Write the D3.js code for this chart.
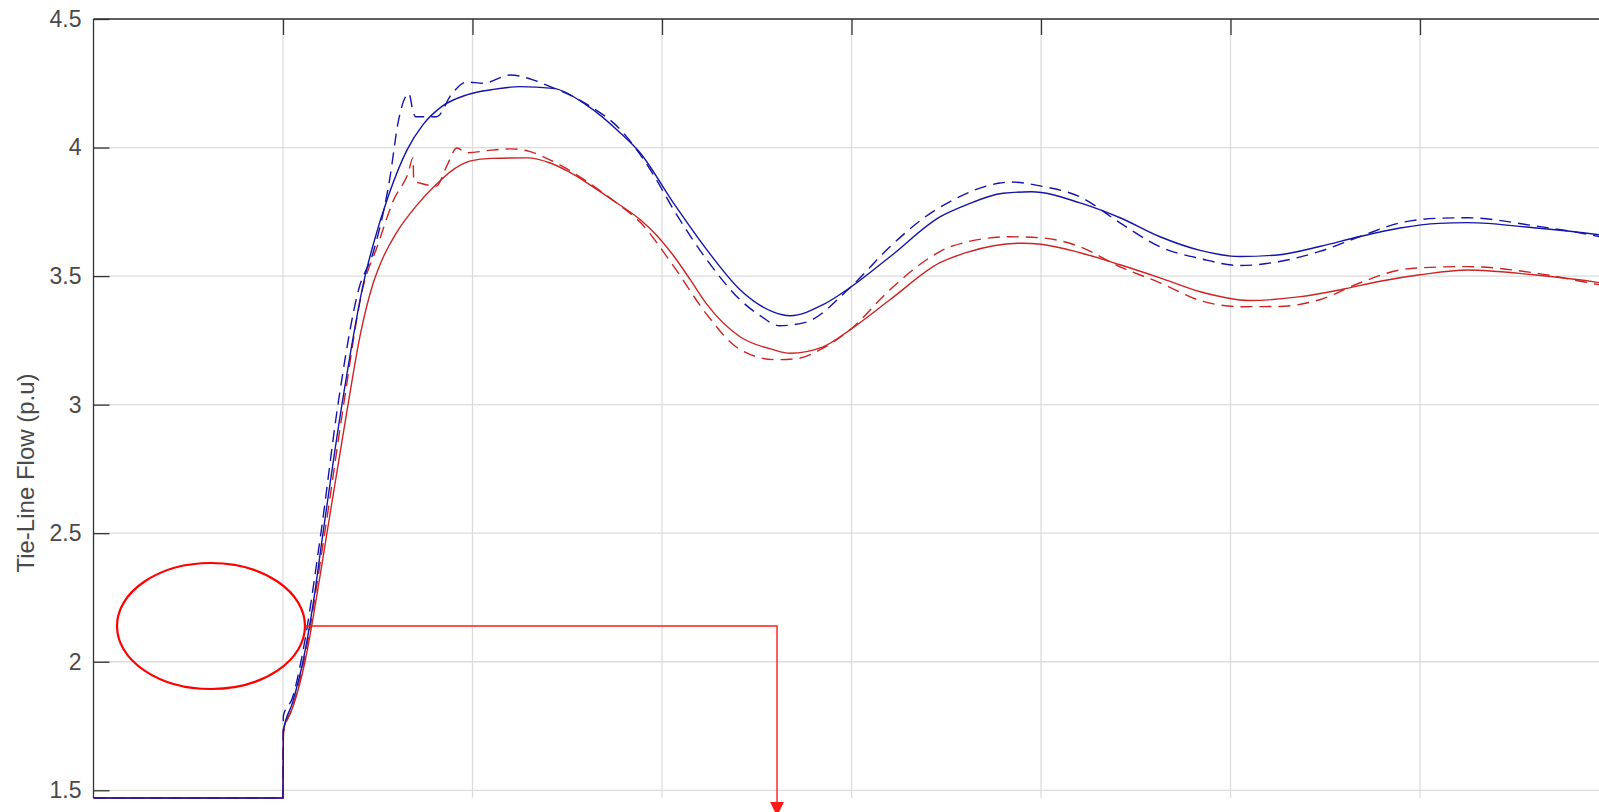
<!DOCTYPE html>
<html>
<head>
<meta charset="utf-8">
<script src="https://cdn.jsdelivr.net/npm/d3@7"></script>
<style>
  html, body { margin: 0; padding: 0; background: #fff; overflow: hidden; }
  svg { display: block; }
</style>
</head>
<body>
<div id="container"></div>
<script>
const WIDTH = 1599;
const HEIGHT = 812;
const LEFT = 93.5;
const TOP = 19;
const BOTTOM = 798;
const GRID_STEP = 189.5;

// data: [t, value]
var blueSolid = [[0,1.47],[1.0,1.47],[1.002,1.73],[1.05,1.84],[1.105,2.0],[1.16,2.23],[1.211,2.5],
  [1.311,3.0],[1.433,3.5],[1.475,3.62],[1.56,3.82],[1.654,3.99],[1.74,4.09],[1.839,4.16],[1.97,4.205],
  [2.1,4.225],[2.25,4.237],[2.425,4.23],[2.6,4.166],[2.78,4.057],[2.884,3.98],[3.06,3.785],
  [3.237,3.602],[3.412,3.447],[3.586,3.361],[3.676,3.346],[3.85,3.389],[3.992,3.455],[4.203,3.575],
  [4.467,3.73],[4.6,3.775],[4.8,3.822],[4.95,3.828],[5.206,3.785],[5.417,3.727],[5.628,3.653],
  [5.84,3.6],[6.05,3.576],[6.26,3.583],[6.47,3.615],[6.684,3.654],[6.895,3.687],[7.1,3.705],
  [7.25,3.708],[7.6,3.688],[7.95,3.66],[8.0,3.655]];

var blueDashed = [[0,1.47],[1.0,1.47],[1.002,1.79],[1.05,1.86],[1.1,2.02],[1.2,2.5],[1.29,3.0],
  [1.4,3.45],[1.475,3.59],[1.565,3.886],[1.607,4.096],[1.665,4.21],[1.686,4.14],[1.7,4.12],
  [1.81,4.12],[1.892,4.21],[1.97,4.255],[2.055,4.25],[2.2,4.282],[2.32,4.263],[2.4,4.24],
  [2.6,4.17],[2.78,4.07],[2.95,3.9],[3.06,3.76],[3.237,3.563],[3.412,3.408],[3.52,3.345],
  [3.62,3.307],[3.757,3.32],[3.992,3.455],[4.203,3.614],[4.37,3.72],[4.52,3.79],[4.784,3.862],
  [4.837,3.866],[5.0,3.85],[5.206,3.808],[5.417,3.707],[5.628,3.614],[5.84,3.568],[6.05,3.541],
  [6.26,3.557],[6.47,3.596],[6.684,3.654],[6.895,3.707],[7.1,3.725],[7.25,3.727],[7.6,3.696],
  [7.95,3.653],[8.0,3.645]];

var redSolid = [[0,1.47],[1.0,1.47],[1.002,1.735],[1.05,1.82],[1.116,2.0],[1.17,2.22],[1.232,2.5],
  [1.343,3.0],[1.41,3.28],[1.475,3.47],[1.53,3.575],[1.6,3.67],[1.7,3.77],[1.8,3.85],[1.9,3.915],
  [1.99,3.948],[2.1,3.958],[2.29,3.96],[2.41,3.94],[2.51,3.905],[2.62,3.855],[2.75,3.79],
  [2.884,3.72],[2.97,3.66],[3.06,3.58],[3.15,3.485],[3.237,3.39],[3.412,3.264],[3.586,3.214],
  [3.676,3.2],[3.85,3.225],[3.992,3.291],[4.203,3.408],[4.467,3.552],[4.6,3.59],[4.75,3.618],
  [4.9,3.628],[5.0,3.624],[5.206,3.591],[5.417,3.544],[5.628,3.493],[5.84,3.439],[6.1,3.405],
  [6.37,3.42],[6.58,3.447],[6.79,3.48],[7.0,3.505],[7.25,3.524],[7.6,3.505],[7.95,3.474],[8.0,3.468]];

var redDashed = [[0,1.47],[1.0,1.47],[1.002,1.72],[1.05,1.82],[1.11,2.0],[1.22,2.5],[1.32,3.0],
  [1.42,3.45],[1.5,3.62],[1.55,3.73],[1.58,3.79],[1.66,3.9],[1.686,3.96],[1.69,3.87],[1.73,3.86],
  [1.81,3.85],[1.865,3.93],[1.918,3.998],[1.97,3.98],[2.1,3.99],[2.2,3.995],[2.3,3.985],
  [2.4,3.955],[2.6,3.87],[2.75,3.79],[2.884,3.71],[3.06,3.54],[3.237,3.35],[3.412,3.214],
  [3.6,3.175],[3.72,3.18],[3.85,3.22],[3.992,3.291],[4.203,3.447],[4.42,3.575],[4.52,3.614],
  [4.837,3.653],[5.0,3.649],[5.206,3.614],[5.417,3.536],[5.628,3.474],[5.84,3.405],[6.05,3.381],
  [6.26,3.382],[6.47,3.408],[6.684,3.474],[6.895,3.524],[7.0,3.532],[7.25,3.537],[7.6,3.513],
  [7.95,3.466],[8.0,3.46]];

var yTicks = [1.5, 2, 2.5, 3, 3.5, 4, 4.5];
var xTicks = [1, 2, 3, 4, 5, 6, 7, 8];

// annotation (data units)
var ellipseMark = [0.62, 2.139, 0.496, 0.245];   // cx, cy, rx, ry
var arrowPath = [[1.116, 2.139], [3.607, 2.139], [3.607, 1.40]];

var translate = function (x, y) {
    return "translate(" + x + "," + y + ")";
};

var svg = d3.select("#container")
    .append("svg")
    .attr("width", WIDTH)
    .attr("height", HEIGHT);

var xScale = d3.scaleLinear().domain([0, 8]).range([LEFT, LEFT + 8 * GRID_STEP]);
var yScale = d3.scaleLinear().domain([1.47, 4.5]).range([BOTTOM, TOP]);

svg.append("defs").append("clipPath").attr("id", "plotClip")
    .append("rect")
    .attr("x", LEFT).attr("y", TOP - 2)
    .attr("width", WIDTH - LEFT).attr("height", BOTTOM - TOP + 4);

// grid
var grid = svg.append("g");
grid.selectAll(".hgrid").data(yTicks).enter().append("line")
    .attr("x1", LEFT).attr("x2", WIDTH)
    .attr("y1", function (d) { return yScale(d); })
    .attr("y2", function (d) { return yScale(d); })
    .attr("stroke", "#dcdcdc").attr("stroke-width", 1.3);
grid.selectAll(".vgrid").data(xTicks).enter().append("line")
    .attr("x1", function (d) { return xScale(d); })
    .attr("x2", function (d) { return xScale(d); })
    .attr("y1", TOP).attr("y2", BOTTOM)
    .attr("stroke", "#dcdcdc").attr("stroke-width", 1.3);

// axes: left with inward ticks, top with inward ticks
var yAxis = d3.axisLeft(yScale).tickValues(yTicks).tickSize(-16).tickPadding(12)
    .tickFormat(d3.format("~g"));
var gy = svg.append("g").attr("transform", translate(LEFT, 0)).call(yAxis);
gy.select(".domain").remove();
gy.selectAll(".tick line").attr("stroke", "#333").attr("stroke-width", 1.3);
gy.selectAll(".tick text")
    .attr("fill", "#4a4a4a")
    .style("font-family", "Liberation Sans, Arial, sans-serif")
    .style("font-size", "23px");

var xAxisTop = d3.axisTop(xScale).tickValues(xTicks).tickSize(-16).tickFormat("");
var gx = svg.append("g").attr("transform", translate(0, TOP)).call(xAxisTop);
gx.select(".domain").remove();
gx.selectAll(".tick line").attr("stroke", "#333").attr("stroke-width", 1.3);

svg.append("line")
    .attr("x1", LEFT).attr("x2", LEFT).attr("y1", TOP).attr("y2", BOTTOM)
    .attr("stroke", "#333").attr("stroke-width", 1.3);
svg.append("line")
    .attr("x1", LEFT).attr("x2", WIDTH).attr("y1", TOP).attr("y2", TOP)
    .attr("stroke", "#333").attr("stroke-width", 1.3);

// y label
svg.append("text")
    .attr("transform", translate(34, 473) + " rotate(-90)")
    .attr("text-anchor", "middle")
    .attr("fill", "#4a4a4a")
    .style("font-family", "Liberation Sans, Arial, sans-serif")
    .style("font-size", "24px")
    .text("Tie-Line Flow (p.u)");

// curves
var line = d3.line()
    .x(function (d) { return xScale(d[0]); })
    .y(function (d) { return yScale(d[1]); })
    .curve(d3.curveMonotoneX);

var g = svg.append("g").attr("clip-path", "url(#plotClip)");

var series = [
    {data: redDashed, color: "#cc2424", dash: "12,7"},
    {data: blueDashed, color: "#1414a8", dash: "12,7"},
    {data: redSolid, color: "#cc2424", dash: null},
    {data: blueSolid, color: "#1414a8", dash: null}
];

series.forEach(function (s) {
    g.append("path")
        .attr("d", line(s.data))
        .attr("fill", "none")
        .attr("stroke", s.color)
        .attr("stroke-width", 1.4)
        .attr("stroke-dasharray", s.dash);
});

// annotation
svg.append("ellipse")
    .attr("cx", xScale(ellipseMark[0]))
    .attr("cy", yScale(ellipseMark[1]))
    .attr("rx", xScale(ellipseMark[2]) - xScale(0))
    .attr("ry", yScale(0) - yScale(ellipseMark[3]))
    .attr("fill", "none")
    .attr("stroke", "#ff0000")
    .attr("stroke-width", 2.2);

svg.append("defs").append("marker")
    .attr("id", "arrowHead")
    .attr("viewBox", "0 0 10 10")
    .attr("refX", 10).attr("refY", 5)
    .attr("markerWidth", 14).attr("markerHeight", 14)
    .attr("markerUnits", "userSpaceOnUse")
    .attr("orient", "auto")
    .append("path")
    .attr("d", "M0,0 L10,5 L0,10 Z")
    .attr("fill", "#ff1a1a");

svg.append("path")
    .attr("d", d3.line()
        .x(function (d) { return xScale(d[0]); })
        .y(function (d) { return yScale(d[1]); })(arrowPath))
    .attr("fill", "none")
    .attr("stroke", "#ff1a1a")
    .attr("stroke-width", 1.4)
    .attr("marker-end", "url(#arrowHead)");
</script>
</body>
</html>
